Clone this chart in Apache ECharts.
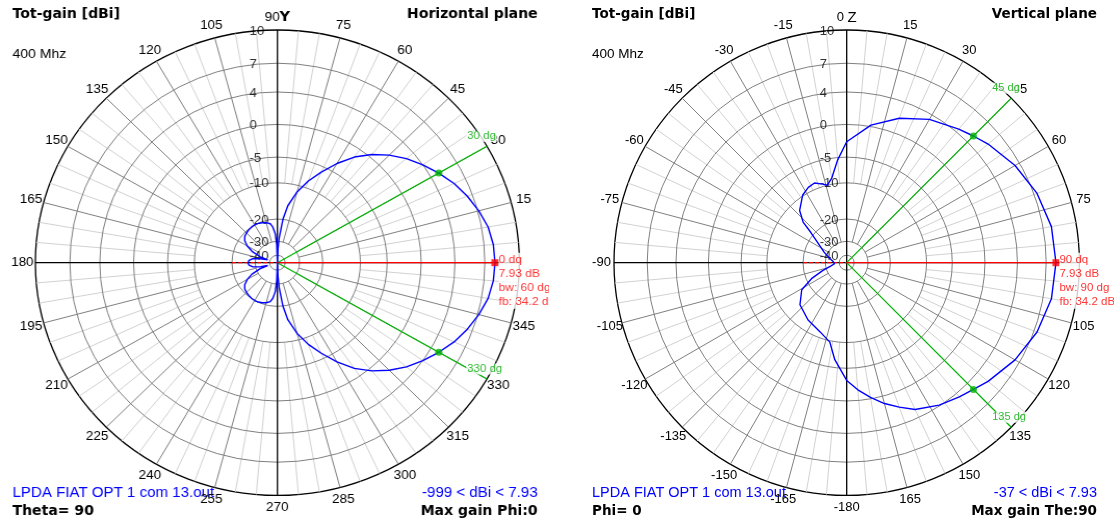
<!DOCTYPE html>
<html><head><meta charset="utf-8">
<script src="https://cdn.jsdelivr.net/npm/echarts/dist/echarts.min.js"></script>
<style>
html,body{margin:0;padding:0;background:#fff;overflow:hidden;width:1114px;height:526px}
#wrapL{position:absolute;left:0;top:0;width:549px;height:526px;overflow:hidden}
#chartL{position:absolute;left:0;top:0;width:534px;height:526px;transform:scaleX(1.04);transform-origin:0 0}
#chartR{position:absolute;left:580px;top:0;width:534px;height:526px}
</style></head>
<body>
<div id="wrapL"><div id="chartL"></div></div>
<div id="chartR"></div>
<script>
// ---------- data ----------
const ringTicks = [10, 7, 4, 0, -5, -10, -20, -30, -40];
const tickAngles = [0, 15, 30, 45, 60, 75, 90, 105, 120, 135, 150, 165, 180, 195, 210, 225, 240, 255, 270, 285, 300, 315, 330, 345];
const hTickLabels = ['', '15', '30', '45', '60', '75', '90', '105', '120', '135', '150', '165', '180', '195', '210', '225', '240', '255', '270', '285', '300', '315', '330', '345'];
const vTickLabels = ['0', '15', '30', '45', '60', '75', '', '105', '120', '135', '150', '165', '-180', '-165', '-150', '-135', '-120', '-105', '-90', '-75', '-60', '-45', '-30', '-15'];

// Horizontal plane (Theta = 90), angle counter-clockwise from X
const hAngles = [0,5,10,15,20,25,30,35,40,45,50,55,60,65,70,75,80,83,86,88,90,92,94,97,100,105,110,115,120,125,130,135,140,145,150,155,160,163,166,170,175,180,
  185,190,194,197,200,205,210,215,220,225,230,235,240,245,250,255,260,263,266,268,270,272,274,277,280,285,290,295,300,305,310,315,320,325,330,335,340,345,350,355,360];
const hGain = [7.93,7.85,7.6,7.1,6.5,5.8,4.93,4.0,3.0,1.8,0.4,-1.3,-3.5,-6.0,-8.5,-11.5,-15.5,-20,-28,-36,-999,-32,-26,-23,-21.5,-20.8,-20.4,-20.1,-20,-20.1,-20.3,-20.6,-21,-22,-24,-27,-32,-38,-33,-28.5,-26.8,-26.3,
  -26.8,-28.5,-33,-38,-32,-27,-24,-22,-21,-20.6,-20.3,-20.1,-20,-20.1,-20.4,-20.8,-21.5,-23,-26,-32,-999,-36,-28,-20,-15.5,-11.5,-8.5,-6.0,-3.5,-1.3,0.4,1.8,3.0,4.0,4.93,5.8,6.5,7.1,7.6,7.85,7.93];

// Vertical plane (Phi = 0), angle clockwise from Z
const vAngles = [0,10,20,30,40,45,50,60,70,80,90,100,110,120,130,135,140,147,155,160,165,170,175,180,187,192,201,214,228,239,246,252,258,265,275,285,295,305,310,313,318,327,333,338,343,346,350,355,360];
const vGain = [-2.5,0.2,2.0,3.4,4.4,4.93,5.5,6.5,7.3,7.8,7.93,7.8,7.3,6.5,5.5,4.93,4.5,3.9,3.0,2.0,1.0,-0.2,-1.5,-3,-6.4,-9.7,-11.3,-12.5,-14.1,-17.1,-22.2,-28,-33,-36,-35,-32,-28,-23,-19,-15,-12.2,-9.8,-9,-8.7,-9.5,-10,-8.7,-5.4,-2.5];

const hMax = {angle: 0, gain: 7.93, text: ['0 dq', '7.93 dB', 'bw: 60 dg', 'fb: 34.2 dB']};
const vMax = {angle: 90, gain: 7.93, text: ['90 dq', '7.93 dB', 'bw: 90 dg', 'fb: 34.2 dB']};
const hBw = [{angle: 30, gain: 4.93, label: '30 dg'}, {angle: 330, gain: 4.93, label: '330 dg'}];
const vBw = [{angle: 45, gain: 4.93, label: '45 dg'}, {angle: 135, gain: 4.93, label: '135 dg'}];

// ---------- scale (log-style radial gain scale, 10 dBi at rim) ----------
function rScale(db) {
  const v = (Math.exp(0.048 * (db - 10)) - 0.0606) / 0.9394;
  return Math.max(0, v);
}

const SANS = "'Liberation Sans', Arial, sans-serif";
const BOLD = "'DejaVu Sans', sans-serif";

function buildOption(cfg) {
  const CX = 266.7, CY = 262.7, R = 232.7;
  const LABEL_R = 1 + 12.5 / R;
  const major = [], minor = [];
  for (let a = 0; a < 360; a += 5) {
    if (a % 90 === 0) continue;
    if (a % 15 === 0) major.push([rScale(-30), a]); else minor.push([rScale(-10), a]);
  }
  const axes = [[0, 0], [0, 90], [0, 180], [0, 270]];
  const spoke = (color, width) => function (params, api) {
    const p0 = api.coord([api.value(0), api.value(1)]);
    const p1 = api.coord([1, api.value(1)]);
    return {type: 'line', shape: {x1: p0[0], y1: p0[1], x2: p1[0], y2: p1[1]},
      style: {stroke: color, lineWidth: width}, silent: true};
  };
  const ringRender = function (params, api) {
    const c = api.coord([0, 0]);
    const p = api.coord([api.value(0), 0]);
    return {type: 'circle', shape: {cx: c[0], cy: c[1], r: p[2]},
      style: {fill: 'none', stroke: '#808080', lineWidth: 1}, silent: true};
  };
  const angleLabelRender = function (params, api) {
    const a = api.value(0);
    const idx = params.dataIndex;
    const p = api.coord([LABEL_R, a]);
    let text = cfg.tickLabels[idx];
    if (a === cfg.top) text = '{a|' + text + '}' + cfg.axisName;
    return {type: 'text', silent: true,
      style: {x: p[0], y: p[1], text: text, align: 'center', verticalAlign: 'middle',
        fill: '#000', font: '13px ' + SANS,
        rich: {a: {fontSize: 13, fontFamily: SANS, fill: '#000'},
               y: {fontSize: 14, fontWeight: 'bold', fontFamily: BOLD, fill: '#000'},
               z: {fontSize: 15, fontFamily: SANS, fill: '#000'}}}};
  };
  const backAngle = (cfg.max.angle + 180) % 360;
  return {
    animation: false,
    backgroundColor: '#fff',
    polar: {center: [CX, CY], radius: R},
    radiusAxis: {type: 'value', min: 0, max: 1, show: false},
    angleAxis: {
      type: 'value', min: 0, max: 360, interval: 15,
      startAngle: cfg.startAngle, clockwise: cfg.clockwise,
      axisLine: {show: true, lineStyle: {color: '#000', width: 1.3}},
      axisTick: {show: false},
      splitLine: {show: false},
      axisLabel: {show: false}
    },
    series: [
      {type: 'custom', coordinateSystem: 'polar', data: minor, renderItem: spoke('#d2d2d2', 1), z: 1, silent: true},
      {type: 'custom', coordinateSystem: 'polar', data: ringTicks.slice(1).map(v => [rScale(v), 0]), renderItem: ringRender, z: 2, silent: true},
      {type: 'custom', coordinateSystem: 'polar', data: major, renderItem: spoke('#808080', 1), z: 2, silent: true},
      {type: 'custom', coordinateSystem: 'polar', data: axes, renderItem: spoke('#000', 1.3), z: 3, silent: true},
      // angle tick labels
      {type: 'custom', coordinateSystem: 'polar', data: tickAngles.map(a => [a]), renderItem: angleLabelRender, z: 4, silent: true,
        encode: {angle: 0}},
      // ring labels
      {type: 'scatter', coordinateSystem: 'polar', symbolSize: 0, silent: true, z: 4,
        data: ringTicks.map(v => [rScale(v), cfg.top, v]),
        label: {show: true, position: 'inside', align: 'left', verticalAlign: 'middle', offset: [-27, 1],
          formatter: p => String(p.value[2]), color: '#000', fontSize: 13, fontFamily: SANS}},
      // green bandwidth lines
      {type: 'custom', coordinateSystem: 'polar', data: cfg.bw.map(b => [0, b.angle]), renderItem: spoke('#00b400', 1.2), z: 5, silent: true},
      // red max-gain line
      {type: 'line', coordinateSystem: 'polar', silent: true, z: 5, symbol: 'none',
        data: [[rScale(-20), backAngle], [0, 0]], lineStyle: {color: '#ff0000', width: 1.3, type: [4, 2]}},
      {type: 'line', coordinateSystem: 'polar', silent: true, z: 5, symbol: 'none',
        data: [[0, 0], [rScale(cfg.max.gain), cfg.max.angle]], lineStyle: {color: '#ff0000', width: 1.3}},
      // pattern
      {type: 'line', coordinateSystem: 'polar', silent: true, z: 6, symbol: 'none', smooth: false,
        data: cfg.angles.map((a, i) => [rScale(cfg.gain[i]), a]),
        lineStyle: {color: '#0000ff', width: 1.4}},
      // bw dots
      {type: 'scatter', coordinateSystem: 'polar', silent: true, z: 7, symbol: 'circle', symbolSize: 7,
        itemStyle: {color: '#00b400'}, data: cfg.bw.map(b => [rScale(b.gain), b.angle])},
      // bw labels
      {type: 'scatter', coordinateSystem: 'polar', silent: true, z: 8, symbolSize: 0,
        data: cfg.bw.map(b => [1, b.angle, b.label]),
        label: {show: true, position: 'inside', align: 'left', verticalAlign: 'middle', offset: [-20, -10],
          formatter: p => p.value[2], color: '#00a800', fontSize: 11, fontFamily: SANS,
          backgroundColor: '#fff', padding: [0, 1]}},
      // max dot + label
      {type: 'scatter', coordinateSystem: 'polar', silent: true, z: 8, symbol: 'rect', symbolSize: 7,
        itemStyle: {color: '#ff0000'}, data: [[rScale(cfg.max.gain), cfg.max.angle]],
        label: {show: true, position: 'right', distance: 0, offset: [0, 18],
          formatter: cfg.max.text.join('\n'), color: '#ff0000', fontSize: 11.5, lineHeight: 14,
          fontFamily: SANS, backgroundColor: '#fff', align: 'left'}}
    ],
    graphic: [
      {type: 'text', left: 12, top: 7, style: {text: 'Tot-gain [dBi]', font: 'bold 13.5px ' + BOLD, fill: '#000'}},
      {type: 'text', left: 12, top: 47, style: {text: '400 Mhz', font: '13.5px ' + SANS, fill: '#000'}},
      {type: 'text', right: 17, top: 7, style: {text: cfg.title, font: 'bold 13.5px ' + BOLD, fill: '#000'}},
      {type: 'text', left: 12, top: 485, style: {text: 'LPDA FIAT OPT 1 com 13.out', font: '14.5px ' + SANS, fill: '#0000ff'}},
      {type: 'text', left: 12, top: 504, style: {text: cfg.bl, font: 'bold 13.5px ' + BOLD, fill: '#000'}},
      {type: 'text', right: 17, top: 485, style: {text: cfg.range, font: '14.5px ' + SANS, fill: '#0000ff'}},
      {type: 'text', right: 17, top: 504, style: {text: cfg.br, font: 'bold 13.5px ' + BOLD, fill: '#000'}}
    ]
  };
}

const chartL = echarts.init(document.getElementById('chartL'), null, {renderer: 'canvas'});
chartL.setOption(buildOption({
  startAngle: 0, clockwise: false, top: 90, axisName: '{y|Y}', tickLabels: hTickLabels,
  angles: hAngles, gain: hGain, max: hMax, bw: hBw,
  title: 'Horizontal plane', bl: 'Theta= 90', br: 'Max gain Phi:0', range: '-999 < dBi < 7.93'
}));
const chartR = echarts.init(document.getElementById('chartR'), null, {renderer: 'canvas'});
chartR.setOption(buildOption({
  startAngle: 90, clockwise: true, top: 0, axisName: ' {z|Z}', tickLabels: vTickLabels,
  angles: vAngles, gain: vGain, max: vMax, bw: vBw,
  title: 'Vertical plane', bl: 'Phi= 0', br: 'Max gain The:90', range: '-37 < dBi < 7.93'
}));
</script>
</body></html>
